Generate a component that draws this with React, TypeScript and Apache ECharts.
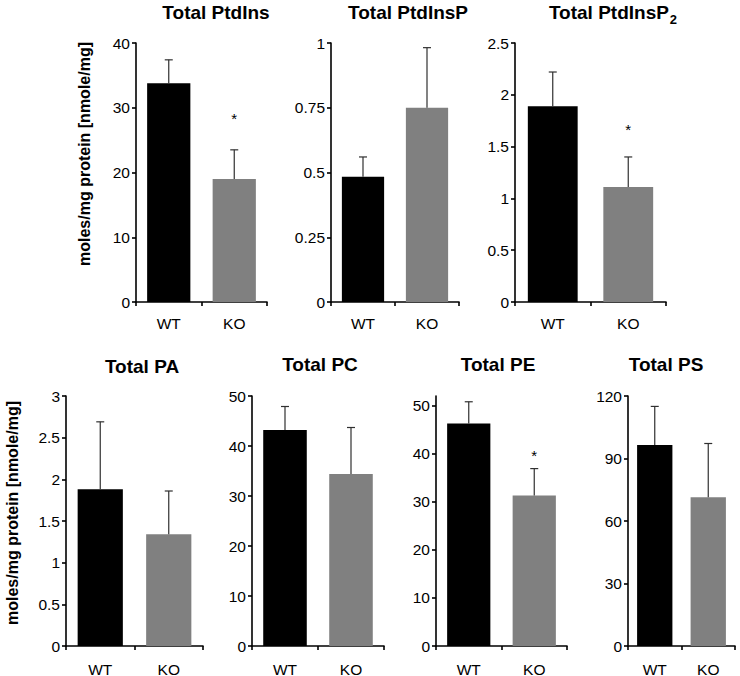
import React, { useEffect, useRef } from "react";
import * as echarts from "echarts";

// ---- data ----
const categories = ["WT", "KO"];
const panelTitles = [
  "Total PtdIns",
  "Total PtdInsP",
  "Total PtdInsP{sub|2}",
  "Total PA",
  "Total PC",
  "Total PE",
  "Total PS",
];
const meanValues = [
  [33.8, 19.0],
  [0.484, 0.75],
  [1.89, 1.11],
  [1.88, 1.34],
  [43.2, 34.4],
  [46.3, 31.3],
  [96.5, 71.4],
];
const errorValues = [
  [3.6, 4.5],
  [0.076, 0.232],
  [0.33, 0.29],
  [0.81, 0.52],
  [4.7, 9.3],
  [4.5, 5.6],
  [18.5, 25.8],
];
const significant = [
  [0, 1],
  [0, 0],
  [0, 1],
  [0, 0],
  [0, 0],
  [0, 1],
  [0, 0],
];
const axisMax = [40, 1, 2.5, 3, 50, 52, 120];
const axisInterval = [10, 0.25, 0.5, 0.5, 10, 10, 30];
const yAxisTitle = "moles/mg protein [nmole/mg]";

// ---- layout ----
const FONT = "'Liberation Sans', Arial, Helvetica, sans-serif";
const barColors = ["#000000", "#808080"];
const grids = [
  { left: 136, top: 43, width: 131, height: 259 },
  { left: 331, top: 43, width: 128, height: 259 },
  { left: 515, top: 43, width: 151, height: 259 },
  { left: 66, top: 396, width: 137, height: 250 },
  { left: 252, top: 396, width: 132, height: 250 },
  { left: 436, top: 396, width: 131, height: 250 },
  { left: 628, top: 396, width: 107, height: 250 },
];
const titlePos = [
  [216, 12],
  [408, 12],
  [613, 12],
  [142, 366],
  [320, 364],
  [498, 364],
  [666, 364],
];
const starOffset = [34, 0, 30, 0, 0, 16, 0];
const xLabelMargin = [13, 13, 13, 15, 15, 15, 15];

export default function App() {
  const ref = useRef<HTMLDivElement>(null);

  useEffect(() => {
    if (!ref.current) return;
    const chart = echarts.init(ref.current, undefined, { renderer: "svg" });

    const grid: any[] = [];
    const xAxis: any[] = [];
    const yAxis: any[] = [];
    const series: any[] = [];
    const graphic: any[] = [];

    panelTitles.forEach((t, i) => {
      grid.push({ ...grids[i], outerBoundsMode: "none", containLabel: false });
      xAxis.push({
        type: "category",
        gridIndex: i,
        data: categories,
        axisLine: { lineStyle: { color: "#000", width: 1.6 } },
        axisTick: { show: true, length: 4, inside: false, lineStyle: { color: "#000", width: 1.6 } },
        axisLabel: { color: "#000", fontSize: 15.5, fontFamily: FONT, margin: xLabelMargin[i] },
        splitLine: { show: false },
      });
      const ticks: number[] = [];
      for (let v = 0; v <= axisMax[i] + 1e-9; v += axisInterval[i]) ticks.push(+v.toFixed(4));
      yAxis.push({
        type: "value",
        gridIndex: i,
        min: 0,
        max: axisMax[i],
        interval: axisInterval[i],
        axisLine: { show: true, lineStyle: { color: "#000", width: 1.6 } },
        axisTick: {
          show: true,
          length: 4,
          inside: false,
          lineStyle: { color: "#000", width: 1.6 },
          customValues: ticks,
        },
        axisLabel: {
          color: "#000",
          fontSize: 15.5,
          fontFamily: FONT,
          margin: 6,
          customValues: ticks,
        },
        splitLine: { show: false },
      });
      series.push({
        type: "bar",
        xAxisIndex: i,
        yAxisIndex: i,
        barWidth: "66%",
        data: meanValues[i].map((v, j) => ({ value: v, itemStyle: { color: barColors[j] } })),
        z: 2,
      });
      const off = starOffset[i];
      series.push({
        type: "custom",
        xAxisIndex: i,
        yAxisIndex: i,
        z: 3,
        encode: { x: 0, y: 1 },
        data: meanValues[i].map((v, j) => [j, v, errorValues[i][j], significant[i][j]]),
        renderItem: (params: any, api: any) => {
          const idx = api.value(0);
          const m = api.value(1);
          const e = api.value(2);
          const sig = api.value(3);
          const base = api.coord([idx, m]);
          const top = api.coord([idx, m + e]);
          const st = { stroke: "#303030", lineWidth: 1.2 };
          const children: any[] = [
            { type: "line", shape: { x1: base[0], y1: base[1], x2: top[0], y2: top[1] }, style: st },
            { type: "line", shape: { x1: top[0] - 4, y1: top[1], x2: top[0] + 4, y2: top[1] }, style: st },
          ];
          if (sig) {
            children.push({
              type: "text",
              x: top[0],
              y: top[1] - off + 3,
              style: {
                text: "*",
                fill: "#000",
                font: `15px ${FONT}`,
                align: "center",
                verticalAlign: "middle",
              },
            });
          }
          return { type: "group", children };
        },
      });
      graphic.push({
        type: "text",
        x: titlePos[i][0],
        y: titlePos[i][1],
        style: {
          text: t,
          fill: "#000",
          font: `bold 19px ${FONT}`,
          align: "center",
          verticalAlign: "middle",
          lineHeight: 22,
          rich: {
            sub: {
              fontSize: 13,
              fontWeight: "bold",
              fontFamily: FONT,
              fill: "#000",
              verticalAlign: "top",
              lineHeight: 10,
              padding: [12, 0, 0, 1],
            },
          },
        },
      });
    });

    graphic.push({
      type: "text",
      x: 84,
      y: 154,
      rotation: Math.PI / 2,
      style: {
        text: yAxisTitle,
        fill: "#000",
        font: `bold 16px ${FONT}`,
        align: "center",
        verticalAlign: "middle",
      },
    });
    graphic.push({
      type: "text",
      x: 12,
      y: 513,
      rotation: Math.PI / 2,
      style: {
        text: yAxisTitle,
        fill: "#000",
        font: `bold 16px ${FONT}`,
        align: "center",
        verticalAlign: "middle",
      },
    });

    chart.setOption({
      animation: false,
      backgroundColor: "#ffffff",
      grid,
      xAxis,
      yAxis,
      series,
      graphic,
    });

    return () => chart.dispose();
  }, []);

  return (
    <div
      ref={ref}
      style={{ position: "absolute", left: 0, top: 0, width: 740, height: 676 }}
    />
  );
}
